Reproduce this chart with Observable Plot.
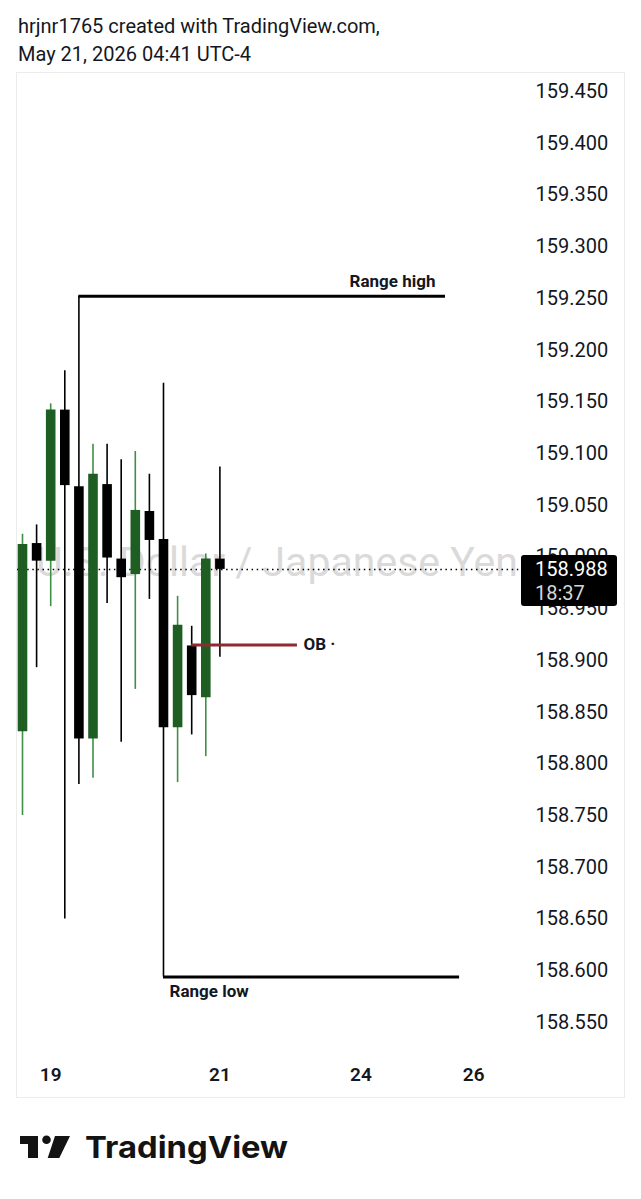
<!DOCTYPE html>
<html>
<head>
<meta charset="utf-8">
<script src="https://cdn.jsdelivr.net/npm/d3@7"></script>
<script src="https://cdn.jsdelivr.net/npm/@observablehq/plot@0.6"></script>
<style>
  html, body { margin: 0; padding: 0; background: #fff; }
  body { width: 641px; height: 1199px; position: relative; overflow: hidden; font-family: Roboto, "Noto Sans", sans-serif; color: #131722; }
  #hdr { position: absolute; left: 18px; top: 12px; font-size: 20px; line-height: 28px; color: #131722; }
  #wrap { position: absolute; left: 16px; top: 72px; width: 607px; height: 1024px; border: 1px solid #ececec; }
  #wrap svg { display: block; overflow: visible; }
  #logo { position: absolute; left: 0; top: 0; }
</style>
</head>
<body>
<div id="hdr">hrjnr1765 created with TradingView.com,<br>May 21, 2026 04:41 UTC-4</div>
<div id="wrap"></div>
<svg id="logo" width="641" height="1199" viewBox="0 0 641 1199">
  <rect x="20" y="1136" width="18" height="8" fill="#131313"/>
  <rect x="28" y="1136" width="10" height="22" fill="#131313"/>
  <circle cx="46.5" cy="1139.8" r="4.3" fill="#131313"/>
  <polygon points="55,1136 70,1136 59.3,1158 47.7,1158" fill="#131313"/>
  <text x="85" y="1158" font-family="Inter, Roboto, sans-serif" font-weight="700" font-size="30" textLength="203" lengthAdjust="spacingAndGlyphs" fill="#131313">TradingView</text>
</svg>
<script>
// ---- data (4h bars, USD/JPY) ----
const barTimes = ["05-18 17:00","05-18 21:00","05-19 01:00","05-19 05:00","05-19 09:00","05-19 13:00","05-19 17:00","05-19 21:00","05-20 01:00","05-20 05:00","05-20 09:00","05-20 13:00","05-20 17:00","05-20 21:00","05-21 01:00"];
const opens  = [158.831,159.013,158.996,159.142,159.068,158.824,159.070,158.998,158.983,159.044,159.017,158.835,158.914,158.864,158.998];
const highs  = [159.022,159.031,159.148,159.180,159.252,159.109,159.109,159.094,159.102,159.080,159.168,158.962,158.933,159.003,159.087];
const lows   = [158.750,158.893,158.952,158.650,158.780,158.786,158.955,158.821,158.872,158.959,158.594,158.782,158.828,158.807,158.903];
const closes = [159.012,158.996,159.142,159.069,158.824,159.080,158.999,158.980,159.045,159.016,158.835,158.934,158.866,158.998,158.988];

const xTickIdx    = [2, 14, 24, 32];
const xTickLabels = ["19", "21", "24", "26"];
const yTicks = [158.55,158.60,158.65,158.70,158.75,158.80,158.85,158.90,158.95,159.00,159.05,159.10,159.15,159.20,159.25,159.30,159.35,159.40,159.45];

const rangeHigh = {label: "Range high", price: 159.252, from: 4, to: 30};
const rangeLow  = {label: "Range low",  price: 158.594, from: 10, to: 31};
const ob        = {label: "OB ·",       price: 158.915, from: 12, to: 19.5};
const watermark = "U.S. Dollar / Japanese Yen";
const countdown = "18:37";

// ---- build ----
const bars = barTimes.map((t, i) => ({i, t, o: opens[i], h: highs[i], l: lows[i], c: closes[i], up: closes[i] >= opens[i]}));
const lastClose = closes[closes.length - 1];
const GREEN_BODY = "#1e5e23", GREEN_WICK = "#3f8f45", BLACK = "#000000";

const priceBox = (index, scales, values, dimensions) => {
  const y = scales.y(lastClose);
  const x0 = dimensions.width - dimensions.marginRight + 1;
  const g = d3.create("svg:g").attr("text-anchor", "start");
  g.append("rect").attr("x", x0).attr("y", y - 14).attr("width", 96).attr("height", 51).attr("rx", 3).attr("fill", "#000");
  g.append("text").attr("x", x0 + 14).attr("y", y).attr("dy", "0.36em").attr("text-anchor", "start").attr("fill", "#fff").attr("font-size", 20).text(d3.format(".3f")(lastClose));
  g.append("text").attr("x", x0 + 14).attr("y", y + 24).attr("dy", "0.36em").attr("text-anchor", "start").attr("fill", "#d6d6d6").attr("font-size", 20).text(countdown);
  return g.node();
};

const chart = Plot.plot({
  width: 607,
  height: 1024,
  marginLeft: 0,
  marginRight: 104,
  marginTop: 18,
  marginBottom: 75,
  style: {fontFamily: "Roboto, sans-serif", fontSize: "20px", color: "#131722", background: "transparent", overflow: "visible"},
  x: {type: "linear", domain: [-0.3546, 35.32], axis: null},
  y: {domain: [158.55, 159.45], axis: null},
  marks: [
    Plot.text([watermark], {frameAnchor: "middle", text: d => d, fontSize: 41, fill: "#dadada", dy: 6, dx: 8}),
    Plot.ruleY([lastClose], {stroke: "#000", strokeWidth: 1.5, strokeDasharray: "1.5,3.6"}),
    Plot.ruleX(bars, {x: "i", y1: "l", y2: "h", stroke: d => d.up ? GREEN_WICK : BLACK, strokeWidth: 1.6}),
    Plot.ruleX(bars, {x: "i", y1: "o", y2: "c", stroke: d => d.up ? GREEN_BODY : BLACK, strokeWidth: 9.6}),
    Plot.ruleY([rangeHigh, rangeLow], {y: "price", x1: "from", x2: "to", stroke: "#000", strokeWidth: 3}),
    Plot.ruleY([ob], {y: "price", x1: "from", x2: "to", stroke: "#8e2b31", strokeWidth: 3}),
    Plot.text([rangeHigh], {x: "to", y: "price", text: "label", textAnchor: "end", dx: -10, dy: -15, fontSize: 17, fontWeight: 700, fill: "#131722"}),
    Plot.text([rangeLow], {x: "from", y: "price", text: "label", textAnchor: "start", dx: 6, dy: 15, fontSize: 17, fontWeight: 700, fill: "#131722"}),
    Plot.text([ob], {x: "to", y: "price", text: "label", textAnchor: "start", dx: 6, fontSize: 17, fontWeight: 700, fill: "#131722"}),
    Plot.axisY(yTicks, {anchor: "right", tickSize: 0, tickPadding: 15, tickFormat: d3.format(".3f"), fontSize: 20, fill: "#131722"}),
    Plot.axisX(xTickIdx, {anchor: "bottom", tickSize: 0, tickPadding: 45, tickFormat: (d) => xTickLabels[xTickIdx.indexOf(d)], fontSize: 19, fontWeight: 600, fill: "#131722"}),
    priceBox
  ]
});
document.getElementById("wrap").appendChild(chart);
</script>
</body>
</html>
